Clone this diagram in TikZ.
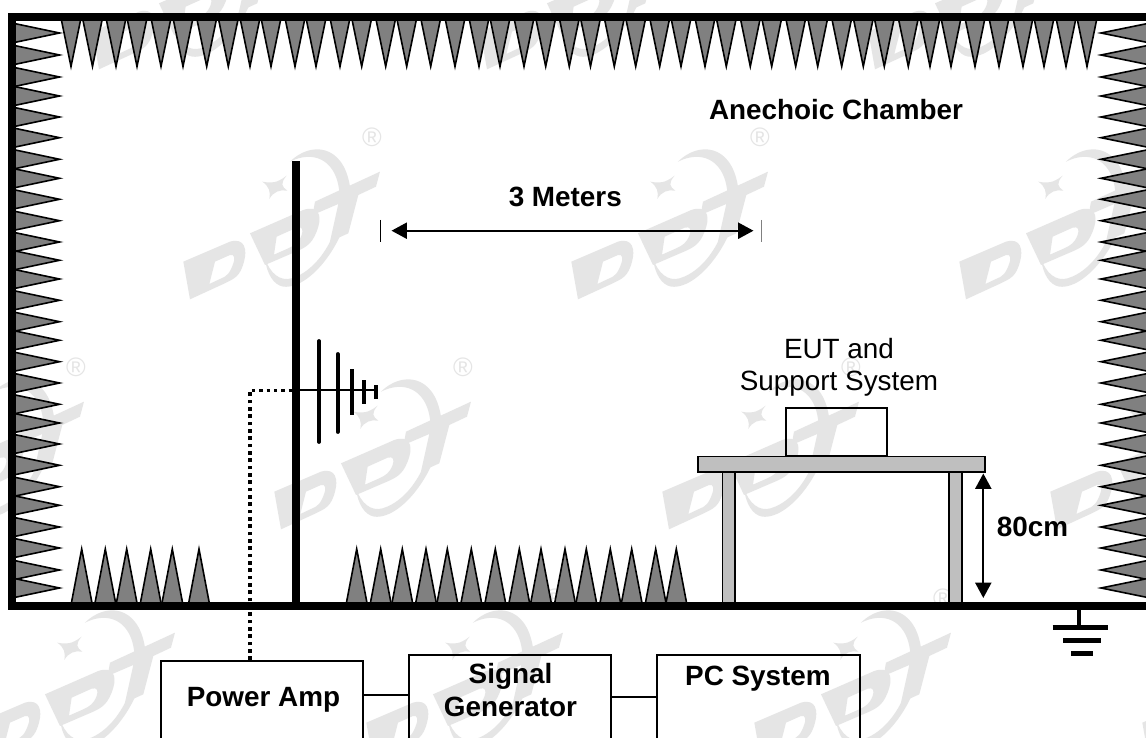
\documentclass[tikz,border=0pt]{standalone}
\usepackage{fontspec}
\setmainfont{Liberation Sans}
\usetikzlibrary{arrows.meta}
\definecolor{spike}{gray}{0.5}
\definecolor{tablegray}{gray}{0.75}
\definecolor{wmgray}{gray}{0.9}
\tikzset{
  spiketri/.style={fill=spike,draw=black,line width=1.2pt,line join=miter},
  wall/.style={draw=black,line width=6pt,line join=miter},
  tablepart/.style={draw=black,fill=tablegray,line width=1.4pt},
  blockbox/.style={draw=black,fill=none,line width=1.5pt,anchor=north west,inner sep=0pt},
  wire/.style={draw=black,line width=1.5pt},
  dotline/.style={draw=black,line width=2.6pt,dash pattern=on 2.7pt off 2.8pt},
  dimline/.style={draw=black,line width=1.5pt,{Triangle[length=11.5pt,width=12pt]}-{Triangle[length=11.5pt,width=12pt]}},
  lbl/.style={font=\fontsize{20.9}{24.5}\selectfont,anchor=base,inner sep=0pt,align=center},
  blbl/.style={lbl,font=\fontsize{20.9}{24.5}\selectfont\bfseries},
  regmark/.style={text=wmgray,inner sep=0pt,font=\fontsize{20}{20}\selectfont},
  logo/.pic={
    \begin{scope}[shift={(-202,-7)},xscale=.3333,yscale=.3333]
      \fill[wmgray,even odd rule] (40,395)--(180,335)..controls(225,322)and(232,360)..(222,395)..controls(210,440)and(195,445)..(160,462)--(60,508)--cycle
        (135,395)--(180,375)..controls(195,370)and(195,390)..(190,400)..controls(180,430)and(170,440)..(150,447)--(118,462)--cycle;
      \fill[wmgray,even odd rule] (240,310)--(400,240)..controls(445,225)and(455,255)..(445,290)..controls(430,340)and(410,350)..(385,362)--(285,405)--cycle
        (320,320)--(380,293)..controls(398,288)and(400,300)..(395,315)..controls(385,340)and(375,345)..(355,355)--(312,374)--cycle;
      \fill[wmgray] (435,215)--(630,125)--(618,170)--(565,195)--(535,310)--(480,335)--(505,222)--(428,255)--cycle;
      \fill[wmgray] (360,95)..controls(420,35)and(520,40)..(540,170)..controls(555,300)and(430,480)..(340,470)..controls(310,465)and(290,430)..(285,385)..controls(300,430)and(330,455)..(365,445)..controls(450,420)and(530,290)..(505,165)..controls(490,90)and(430,60)..cycle;
      \fill[wmgray] (277,155)..controls(305,160)and(320,160)..(350,137)..controls(330,160)and(335,170)..(352,182)..controls(330,178)and(310,185)..(298,207)..controls(302,185)and(298,170)..cycle;
    \end{scope}
  }
}
\begin{document}
\begin{tikzpicture}[x=.75pt,y=-.75pt]
\path[use as bounding box,clip] (0,0) rectangle (1146,738);
\fill[white] (0,0) rectangle (1146,738);
% watermark
\foreach \mx/\my in {281/-93,669/-93,1057/-93,-16/137,372/137,760/137,1148/137,76/367,463/367,851/367,1239/367,167/598,555/598,943/598,1331/598}
  \pic at (\mx,\my) {logo};
\foreach \mx/\my/\mn in {372/137/a,760/137/b,76/367/c,463/367/d,851/367/e,167/598/f,555/598/g,943/598/h}
  \node[regmark] (reg\mn) at (\mx,\my) {®};
% top absorbers
\foreach \t in {71,92.5,116,137,161,183,206.7,228.3,250,271,295,316,340,361.7,385.7,406.7,430.7,455,479,500,524,545.7,569.3,590.5,614.3,635.7,659.7,681,705,726.3,750.3,771.7,795.7,817.7,841.7,863.3,884.3,908.3,930,951,975,999,1023,1044,1066,1087}
  \draw[spiketri] (\t-10,18)--(\t,66.5)--(\t+10,18)--cycle;
% side absorbers
\foreach \t in {33,55,77,96,117,137.7,159.3,178.3,199.3,220.7,242,260.3,279,300.3,321.7,340.3,361.7,383,404.3,423,444,465.3,486.7,505.3,527,548,570,588}{
  \draw[spiketri] (12,\t-10)--(59.5,\t)--(12,\t+10)--cycle;
  \draw[spiketri] (1150,\t-10)--(1101,\t)--(1150,\t+10)--cycle;
}
% floor absorbers
\foreach \t in {81.7,105.3,126.7,150.7,172.3,199,356.7,380.7,402.3,426,447.3,471.3,495.3,519.3,541,565,586.3,610.3,631.7,655.7,676.3}
  \draw[spiketri] (\t-10.5,604)--(\t,549)--(\t+10.5,604)--cycle;
% chamber shell
\draw[wall] (1150,17)--(12,17)--(12,606)--(1150,606);
% mast and antenna
\coordinate (mastTop) at (295.5,161.5);
\coordinate (mastFoot) at (295.5,603);
\coordinate (feed) at (295.5,390);
\coordinate (boomEnd) at (376,390);
\draw[draw=black,line width=6pt] (mastTop)--(mastFoot);
\draw[draw=black,line width=2.2pt] (feed)--(boomEnd);
\draw[draw=black,line width=2.8pt,line cap=round] (319,341)--(319,442);
\draw[draw=black,line width=2.8pt,line cap=round] (337.7,354)--(337.7,432);
\draw[draw=black,line width=2.8pt] (351.7,369)--(351.7,415);
\draw[draw=black,line width=3pt] (364,380)--(364,404);
\draw[draw=black,line width=3pt] (375.7,385)--(375.7,399);
% table
\node[tablepart,anchor=north west,minimum width=9.7pt,minimum height=98pt,inner sep=0pt] (legL) at (721.5,471) {};
\node[tablepart,anchor=north west,minimum width=9.7pt,minimum height=98pt,inner sep=0pt] (legR) at (948,471) {};
\node[tablepart,anchor=north west,minimum width=215pt,minimum height=11.5pt,inner sep=0pt] (tabletop) at (697,455.5) {};
\node[blockbox,minimum width=75.5pt,minimum height=36pt] (eut) at (785,406.5) {};
\node[lbl] (eutText) at (839,390.7) {EUT and\\Support System};
% height dimension
\coordinate (dimTop) at (983.3,473.5);
\coordinate (dimBot) at (983.3,598);
\draw[dimline] (dimTop)--(dimBot);
\node[blbl] (h) at (1032.5,536) {80cm};
% distance dimension
\coordinate (tickL) at (380.3,220);
\coordinate (tickLb) at (380.3,241.7);
\coordinate (tickR) at (761.7,220);
\coordinate (tickRb) at (761.7,241.7);
\coordinate (spanL) at (391.5,230.7);
\coordinate (spanR) at (753.5,230.7);
\draw[draw=black,line width=.75pt] (tickL)--(tickLb);
\draw[draw=gray,line width=.9pt] (tickR)--(tickRb);
\draw[dimline] (spanL)--(spanR);
\node[blbl] (dist) at (565.3,206.7) {3 Meters};
\node[blbl] (room) at (836,120) {Anechoic Chamber};
% ground
\coordinate (gndTop) at (1079,608);
\coordinate (gndBar) at (1079,627);
\draw[draw=black,line width=3.6pt] (gndTop)--(gndBar);
\draw[draw=black,line width=4pt] (1052.5,627.3)--(1108,627.3);
\draw[draw=black,line width=4pt] (1063,640.7)--(1100.7,640.7);
\draw[draw=black,line width=4pt] (1071,653.7)--(1092.7,653.7);
% lab blocks
\node[blockbox,minimum width=151.5pt,minimum height=100pt] (amp) at (160,659.5) {};
\node[blockbox,minimum width=151.5pt,minimum height=100pt] (gen) at (408.3,654) {};
\node[blockbox,minimum width=152pt,minimum height=100pt] (pc) at (656,654) {};
\node[blbl] (ampText) at (263.5,706.7) {Power Amp};
\node[blbl] (genText) at (510.5,716) {Signal\\Generator};
\node[blbl] (pcText) at (758,685.7) {PC System};
\coordinate (j1) at (385,695.3);
\coordinate (j2) at (633,697.3);
\draw[wire] (amp.east |- j1)--(gen.west |- j1);
\draw[wire] (gen.east |- j2)--(pc.west |- j2);
\coordinate (ampPort) at (250,660);
\coordinate (mastFeed) at (292,390.5);
\draw[dotline] (ampPort)--(ampPort |- mastFeed)--(mastFeed);
\end{tikzpicture}
\end{document}
